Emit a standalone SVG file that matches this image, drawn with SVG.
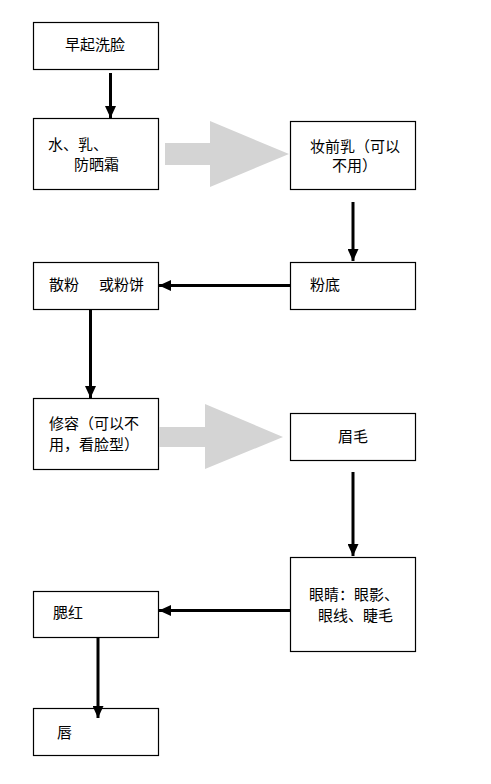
<svg xmlns="http://www.w3.org/2000/svg" width="491" height="784" viewBox="0 0 491 784">
<style>
.box{fill:#fff;stroke:#000;stroke-width:1.2}
.t{font-family:"Noto Sans CJK SC","Noto Sans",sans-serif;font-size:15px;fill:#000}
.con{stroke:#000;stroke-width:3;fill:none}
.big{fill:#d4d4d4;stroke:none}
</style>
<defs>
<marker id="ah" markerUnits="userSpaceOnUse" markerWidth="12" markerHeight="11" refX="12" refY="5.5" orient="auto" viewBox="0 0 12 11">
<path d="M0,0 L12,5.5 L0,11 z" fill="#000"/>
</marker>
</defs>
<rect width="491" height="784" fill="#fff"/>
<g id="n1"><rect class="box" x="33.5" y="22.5" width="125" height="47"/><text class="t" x="65" y="50">早起洗脸</text></g>
<g id="n2"><rect class="box" x="33.5" y="118.5" width="125" height="71"/><text class="t" x="48" y="150">水、乳、</text><text class="t" x="74" y="170">防晒霜</text></g>
<g id="n3"><rect class="box" x="290.5" y="121.5" width="125" height="68"/><text class="t" x="310" y="152">妆前乳（可以</text><text class="t" x="332" y="171">不用）</text></g>
<g id="n4"><rect class="box" x="290.5" y="262.5" width="125" height="47"/><text class="t" x="310" y="290">粉底</text></g>
<g id="n5"><rect class="box" x="33.5" y="262.5" width="125" height="47"/><text class="t" x="49" y="290">散粉</text><text class="t" x="99" y="290">或粉饼</text></g>
<g id="n6"><rect class="box" x="33.5" y="398.5" width="125" height="71"/><text class="t" x="49" y="429">修容（可以不</text><text class="t" x="49" y="450">用，看脸型）</text></g>
<g id="n7"><rect class="box" x="290.5" y="413.5" width="125" height="47"/><text class="t" x="338" y="442">眉毛</text></g>
<g id="n8"><rect class="box" x="290.5" y="557.5" width="125" height="94"/><text class="t" x="309" y="600">眼睛：眼影、</text><text class="t" x="318" y="621">眼线、睫毛</text></g>
<g id="n9"><rect class="box" x="33.5" y="591.5" width="125" height="46"/><text class="t" x="53" y="618">腮红</text></g>
<g id="n10"><rect class="box" x="33.5" y="708.5" width="125" height="47"/><text class="t" x="57" y="738">唇</text></g>
<g id="connectors">
<line class="con" x1="110.5" y1="73" x2="110.5" y2="118" marker-end="url(#ah)"/>
<line class="con" x1="353" y1="202" x2="353" y2="261" marker-end="url(#ah)"/>
<line class="con" x1="290" y1="285.5" x2="159" y2="285.5" marker-end="url(#ah)"/>
<line class="con" x1="90.5" y1="309" x2="90.5" y2="398" marker-end="url(#ah)"/>
<line class="con" x1="353" y1="472" x2="353" y2="556" marker-end="url(#ah)"/>
<line class="con" x1="290" y1="610.5" x2="159" y2="610.5" marker-end="url(#ah)"/>
<line class="con" x1="98" y1="637" x2="98" y2="718" marker-end="url(#ah)"/>
<polygon class="big" points="165,143 210,143 210,121 289,154 210,187 210,165 165,165"/>
<polygon class="big" points="159,427 205,427 205,404 283,437 205,469 205,447 159,447"/>
</g>
</svg>
